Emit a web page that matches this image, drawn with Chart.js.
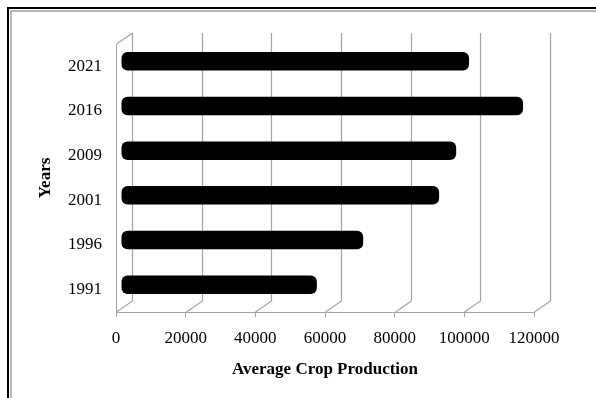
<!DOCTYPE html>
<html>
<head>
<meta charset="utf-8">
<script src="https://cdn.jsdelivr.net/npm/chart.js@4/dist/chart.umd.min.js"></script>
<style>
  html, body { margin: 0; padding: 0; background: #fff; }
  body { width: 596px; height: 398px; position: relative; overflow: hidden; }
  .frame-outer { position: absolute; left: 7px; top: 7px; width: 800px; height: 600px;
                 border-left: 2px solid #000; border-top: 2px solid #000; }
  .frame-inner { position: absolute; left: 10px; top: 10px; width: 800px; height: 600px;
                 border-left: 2px solid #b8b8b8; border-top: 2px solid #b8b8b8; }
  canvas { position: absolute; left: 0; top: 0; }
</style>
</head>
<body>
<div class="frame-outer"></div>
<div class="frame-inner"></div>
<canvas id="chart" width="596" height="398"></canvas>
<script>
// Census years, top to bottom
const years = ['2021', '2016', '2009', '2001', '1996', '1991'];
// Average crop production per year
const avgProduction = [98200, 113700, 94500, 89600, 67800, 54500];
// Value axis tick labels
const productionTicks = [0, 20000, 40000, 60000, 80000, 100000, 120000];

const FONT = 'Liberation Serif, Times New Roman, serif';
const GRID = '#a3a3a3';
// Perspective depth of the 3D box (back wall offset from the front plane)
const DEPTH_X = 16, DEPTH_Y = -11;

// Back wall, floor and side wall lines of the 3D box
const wallsPlugin = {
  id: 'walls',
  beforeDraw(chart) {
    const { ctx, chartArea: a, scales: { x } } = chart;
    ctx.save();
    ctx.strokeStyle = GRID;
    ctx.lineWidth = 1.2;
    ctx.beginPath();
    productionTicks.forEach(v => {
      const px = Math.round(x.getPixelForValue(v)) + 0.5;
      // floor line from the front edge back to the wall
      ctx.moveTo(px, a.bottom);
      ctx.lineTo(px + DEPTH_X, a.bottom + DEPTH_Y);
      // vertical gridline on the back wall
      ctx.lineTo(px + DEPTH_X, a.top + DEPTH_Y);
    });
    // top edge of the side wall
    const lx = Math.round(a.left) + 0.5;
    ctx.moveTo(lx, a.top);
    ctx.lineTo(lx + DEPTH_X, a.top + DEPTH_Y);
    ctx.stroke();
    ctx.restore();
  }
};

// Bars sit halfway into the box depth
const depthShiftPlugin = {
  id: 'depthShift',
  beforeDatasetsDraw(chart) {
    chart.ctx.save();
    chart.ctx.translate(DEPTH_X / 2, Math.round(DEPTH_Y / 2));
  },
  afterDatasetsDraw(chart) {
    chart.ctx.restore();
  }
};

new Chart(document.getElementById('chart'), {
  type: 'bar',
  data: {
    labels: years,
    datasets: [{
      label: 'Average Crop Production',
      data: avgProduction,
      backgroundColor: '#000',
      borderWidth: 0,
      borderSkipped: false,
      borderRadius: 6,
      inflateAmount: 3,
      barThickness: 12.5,
      clip: false
    }]
  },
  options: {
    indexAxis: 'y',
    responsive: false,
    animation: false,
    devicePixelRatio: 1,
    layout: { padding: { top: 44, right: 62, bottom: 0, left: 0 } },
    plugins: { legend: { display: false }, tooltip: { enabled: false } },
    scales: {
      x: {
        min: 0,
        max: 120000,
        afterBuildTicks(scale) { scale.ticks = productionTicks.map(v => ({ value: v })); },
        afterFit(scale) { scale.height = 398 - 312; },
        grid: { display: true, drawOnChartArea: false, drawTicks: true, tickLength: 5, color: GRID, lineWidth: 1 },
        border: { display: true, color: GRID, width: 1 },
        ticks: {
          autoSkip: false,
          maxRotation: 0,
          padding: 11,
          color: '#000',
          font: { family: FONT, size: 17 },
          callback: v => String(v)
        },
        title: {
          display: true,
          text: 'Average Crop Production',
          color: '#000',
          font: { family: FONT, size: 17, weight: 'bold' },
          padding: { top: 0, bottom: 18 }
        }
      },
      y: {
        afterFit(scale) { scale.width = 116; },
        grid: { display: false, drawTicks: false },
        border: { display: true, color: GRID, width: 1 },
        ticks: {
          padding: 14,
          color: '#000',
          font: { family: FONT, size: 17 }
        },
        title: {
          display: true,
          text: 'Years',
          color: '#000',
          font: { family: FONT, size: 17, weight: 'bold' },
          padding: { top: 35, bottom: 0 }
        }
      }
    }
  },
  plugins: [wallsPlugin, depthShiftPlugin]
});
</script>
</body>
</html>
